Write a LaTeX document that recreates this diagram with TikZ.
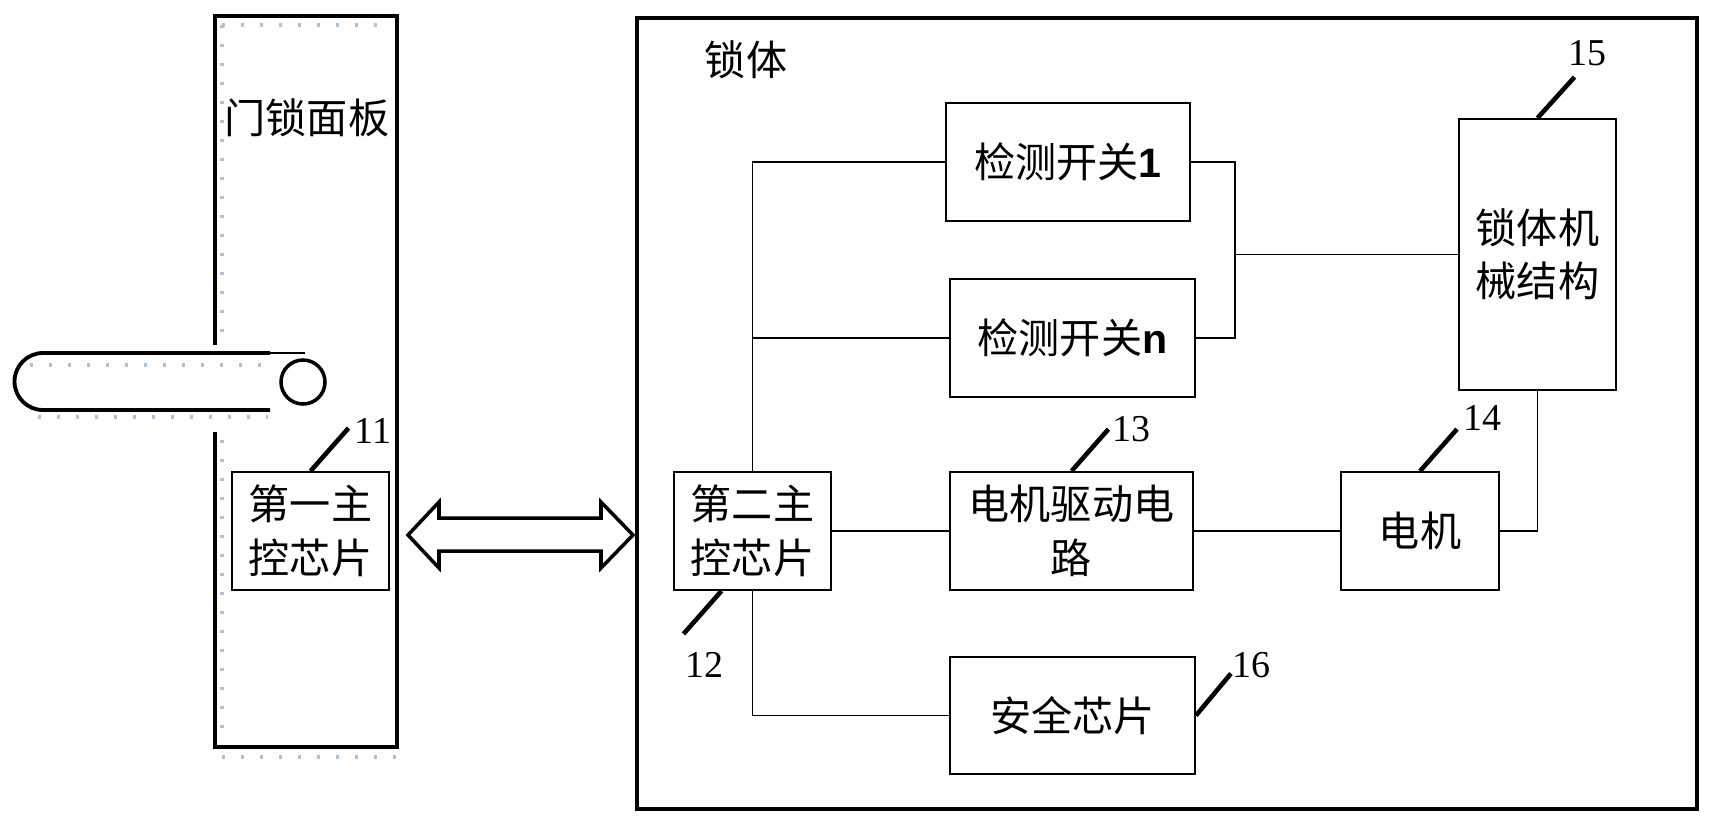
\documentclass[tikz,border=0pt]{standalone}
\usepackage{fontspec}
\usepackage{xcolor}
\usepackage{tikz}
\usetikzlibrary{positioning,calc}
\newfontfamily\cjk{Noto Sans CJK SC}
\newfontfamily\latinsans{Liberation Sans}
\newfontfamily\numfont{Liberation Serif}
\definecolor{dotblue}{RGB}{170,195,220}

\begin{document}
\begin{tikzpicture}[x=0.01cm, y=-0.01cm,
    box/.style={draw, line width=0.5pt, inner sep=0pt, align=center,
        font=\cjk\fontsize{11.7}{15.2}\selectfont},
    txt/.style={inner sep=0pt, font=\cjk\fontsize{11.7}{15.2}\selectfont},
    wire/.style={line width=0.5pt},
    heavy/.style={line width=1.1pt},
    leader/.style={line width=1.3pt},
    num/.style={inner sep=0pt, font=\numfont\fontsize{10.8}{12}\selectfont},
    ghost/.style={dotblue, line width=0.9pt, dash pattern=on 0.9pt off 4.5pt}]
    \useasboundingbox (0,0) rectangle (1711,829);

    % door panel with handle
    \draw[ghost] (222,25) -- (392,25);
    \draw[ghost] (222,25) -- (222,340);
    \draw[ghost] (222,440) -- (222,740);
    \draw[ghost] (222,757) -- (397,757);
    \draw[ghost] (30,365) -- (262,365);
    \draw[ghost] (38,417) -- (268,417);
    \draw[heavy] (215,345) -- (215,16) -- (397,16) -- (397,747) -- (215,747) -- (215,432);
    \node[txt] (panel) at (307,118) {门锁面板};
    \draw[heavy] (270,353) -- (43,353) arc[start angle=-90, end angle=-270, radius=28.5] -- (270,410);
    \draw[wire] (270,353) -- (305,353);
    \draw[line width=1pt] (303,382) circle[radius=22];
    \node[box, minimum width=1.57cm, minimum height=1.18cm] (chipA) at (310.5,531) {第一主\\控芯片};

    % link
    \draw[line width=1pt] (408,535) -- (439,502) -- (439,518) -- (601,518) -- (601,502)
        -- (633,535) -- (601,568) -- (601,551) -- (439,551) -- (439,568) -- cycle;

    % lock body
    \node[draw, line width=1.1pt, inner sep=0pt, minimum width=10.6cm, minimum height=7.91cm] (body) at (1167,413.5) {};
    \node[txt] (bodyname) at (746,60) {锁体};
    \node[box, minimum width=1.57cm, minimum height=1.18cm] (chipB) at (752.5,531) {第二主\\控芯片};
    \node[box, minimum width=2.44cm, minimum height=1.18cm] (sw1) at (1068,162) {检测开关{\latinsans\bfseries 1}};
    \node[box, minimum width=2.45cm, minimum height=1.18cm] (swn) at (1072.5,338) {检测开关{\latinsans\bfseries n}};
    \node[box, minimum width=2.43cm, minimum height=1.18cm] (drv) at (1071.5,531) {电机驱动电\\路};
    \node[box, minimum width=2.45cm, minimum height=1.17cm] (safe) at (1072.5,715.5) {安全芯片};
    \node[box, minimum width=1.57cm, minimum height=2.71cm] (mech) at (1537.5,254.5) {锁体机\\械结构};
    \node[box, minimum width=1.58cm, minimum height=1.18cm] (motor) at (1420,531) {电机};
    \coordinate (join) at (1235,254.5);

    \draw[wire] (chipB.north) |- (sw1.west);
    \draw[wire] (chipB.north |- swn.west) -- (swn.west);
    \draw[wire] (chipB.south) |- (safe.west);
    \draw[wire] (chipB.east) -- (drv.west);
    \draw[wire] (drv.east) -- (motor.west);
    \draw[wire] (sw1.east) -| (join) |- (swn.east);
    \draw[wire] (join) -- (mech.west);
    \draw[wire] (motor.east) -| (mech.south);

    % reference numbers
    \draw[leader] (chipA.north) -- ++(38,-43);
    \node[num] (n11) at (373,431) {11};
    \draw[leader] ($(chipB.south)+(-31,0)$) -- ++(-38,43);
    \node[num] (n12) at (704,665) {12};
    \draw[leader] (drv.north) -- ++(37,-42);
    \node[num] (n13) at (1131,429) {13};
    \draw[leader] (motor.north) -- ++(37,-42);
    \node[num] (n14) at (1482,418) {14};
    \draw[leader] (mech.north) -- ++(37,-41);
    \node[num] (n15) at (1587,53) {15};
    \draw[leader] (safe.east) -- ++(35,-42);
    \node[num] (n16) at (1251,665) {16};
\end{tikzpicture}
\end{document}
